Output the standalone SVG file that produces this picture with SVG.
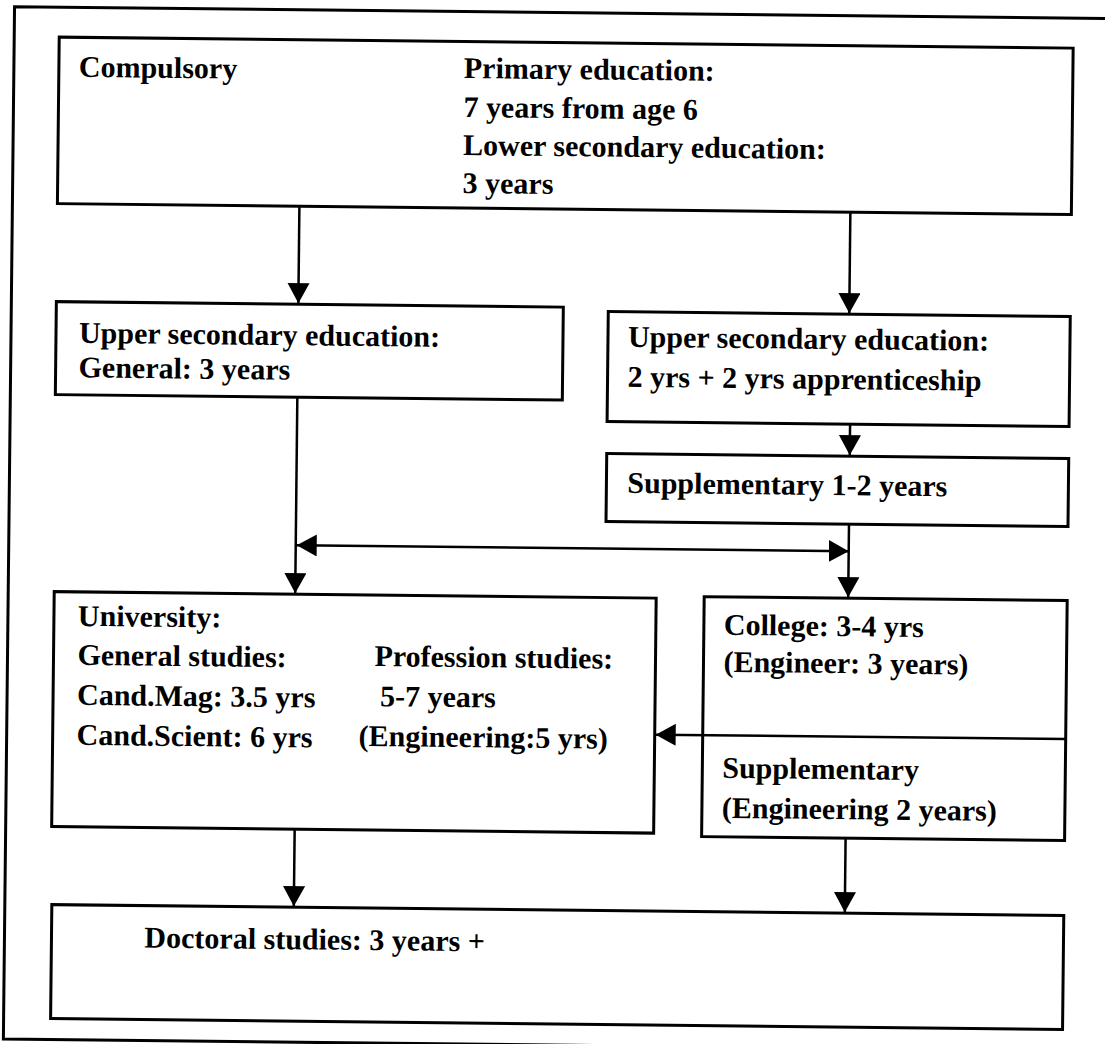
<svg xmlns="http://www.w3.org/2000/svg" width="1105" height="1044" viewBox="0 0 1105 1044">
<defs>
<marker id="ah" markerUnits="userSpaceOnUse" markerWidth="22" markerHeight="24" refX="20" refY="11" orient="auto-start-reverse">
<path d="M0,0 L20,11 L0,22 Z" fill="#000"/>
</marker>
<style>
.box{fill:#fff;stroke:#000;stroke-width:3}
.frame{fill:none;stroke:#000;stroke-width:3}
.t{font-family:"Liberation Serif","Times New Roman",serif;font-weight:bold;font-size:30px;fill:#000}
.c{fill:none;stroke:#000;stroke-width:2.5}
</style>
</defs>
<rect width="1105" height="1044" fill="#fff"/>
<g transform="rotate(0.62 552 522)">
<path class="frame" d="M1120,12.5 L9,12.5 L9,1045 L1120,1045"/>

<g id="compulsory">
<rect class="box" x="54" y="42.5" width="1014" height="166.5"/>
<text class="t" x="74" y="82">Compulsory</text>
<text class="t" x="459" y="79">Primary education:</text>
<text class="t" x="459" y="118">7 years from age 6</text>
<text class="t" x="459" y="156">Lower secondary education:</text>
<text class="t" x="459" y="194">3 years</text>
</g>

<g id="upper-general">
<rect class="box" x="54" y="307" width="507" height="93"/>
<text class="t" x="77" y="348">Upper secondary education:</text>
<text class="t" x="77" y="382.5">General: 3 years</text>
</g>

<g id="upper-vocational">
<rect class="box" x="606" y="311" width="462" height="110"/>
<text class="t" x="626" y="346">Upper secondary education:</text>
<text class="t" x="626" y="386">2 yrs + 2 yrs apprenticeship</text>
</g>

<g id="supplementary">
<rect class="box" x="606" y="453" width="462" height="68"/>
<text class="t" x="627" y="492">Supplementary 1-2 years</text>
</g>

<g id="university">
<rect class="box" x="55" y="597" width="602" height="235"/>
<text class="t" x="79" y="631">University:</text>
<text class="t" x="79" y="670">General studies:</text>
<text class="t" x="376" y="668">Profession studies:</text>
<text class="t" x="79" y="710">Cand.Mag: 3.5 yrs</text>
<text class="t" x="382" y="708">5-7 years</text>
<text class="t" x="79" y="750">Cand.Scient: 6 yrs</text>
<text class="t" x="361" y="748">(Engineering:5 yrs)</text>
</g>

<g id="college">
<rect class="box" x="705" y="595" width="363" height="240"/>
<text class="t" x="725" y="633">College: 3-4 yrs</text>
<text class="t" x="725" y="670">(Engineer: 3 years)</text>
<text class="t" x="725" y="776">Supplementary</text>
<text class="t" x="725" y="816">(Engineering 2 years)</text>
</g>

<g id="doctoral">
<rect class="box" x="56" y="910" width="1012" height="114"/>
<text class="t" x="149" y="952">Doctoral studies: 3 years +</text>
</g>

<g id="connectors">
<line class="c" x1="296" y1="209" x2="296" y2="306" marker-end="url(#ah)"/>
<line class="c" x1="847" y1="209" x2="847" y2="310" marker-end="url(#ah)"/>
<line class="c" x1="849" y1="421" x2="849" y2="452" marker-end="url(#ah)"/>
<line class="c" x1="296" y1="400" x2="296" y2="596" marker-end="url(#ah)"/>
<line class="c" x1="297" y1="548" x2="849" y2="548" marker-start="url(#ah)" marker-end="url(#ah)"/>
<line class="c" x1="849" y1="521" x2="849" y2="594" marker-end="url(#ah)"/>
<line class="c" x1="1068" y1="733.5" x2="658" y2="733.5" marker-end="url(#ah)"/>
<line class="c" x1="298" y1="832" x2="298" y2="909" marker-end="url(#ah)"/>
<line class="c" x1="849" y1="835" x2="849" y2="909" marker-end="url(#ah)"/>
</g>
</g>
</svg>
